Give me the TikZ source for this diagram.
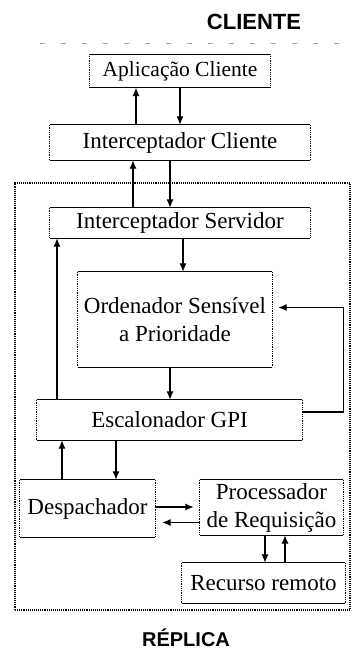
\documentclass[tikz,border=0pt]{standalone}
\usepackage{fontspec}
\setmainfont{Liberation Serif}
\newfontfamily\labelfont{Liberation Sans}
\usetikzlibrary{arrows.meta}

\begin{document}
\begin{tikzpicture}[x=1pt,y=-1pt,
  blk/.style={minimum width=#1, inner sep=0pt, align=center,
    font=\fontsize{23}{28}\selectfont},
  arr/.style={line width=1.2pt, -{Latex[length=8.5pt,width=7pt]}},
  hedge/.style={line width=1.2pt},
  vedge/.style={line width=0.8pt, densely dotted},
  title/.style={font=\labelfont\bfseries\fontsize{22}{26}\selectfont}
]
\useasboundingbox (0,0) rectangle (352,650);

% headings
\node[title] (cli) at (254,22) {CLIENTE};
\node[title, font=\labelfont\bfseries\fontsize{20}{24}\selectfont] (rep) at (186,638) {RÉPLICA};
\draw[gray!70, line width=0.6pt, dash pattern=on 5pt off 16pt] (40,43) -- (352,43);

% replica frame
\node[draw, line width=1.1pt, densely dotted, minimum width=335pt, minimum height=427pt,
      inner sep=0pt] (frame) at (182.5,396.5) {};

% blocks
\node[blk=180pt, minimum height=33pt, font=\fontsize{21.5}{26}\selectfont] (apl) at (180,71) {Aplicação Cliente};
\node[blk=260pt, minimum height=35pt] (icli) at (180,142.5) {Interceptador Cliente};
\node[blk=260pt, minimum height=30pt] (isrv) at (180,223) {Interceptador Servidor};
\node[blk=194pt, minimum height=95pt] (ord) at (175,319.5) {Ordenador Sensível\\a Prioridade};
\node[blk=265pt, minimum height=40pt] (esc) at (169.5,420) {Escalonador GPI};
\node[blk=135pt, minimum height=57pt] (desp) at (87.5,508.5) {Despachador};
\node[blk=143pt, minimum height=55pt] (proc) at (271.5,507.5) {Processador\\de Requisição};
\node[blk=163pt, minimum height=40pt] (rec) at (263.5,583) {Recurso remoto};

% block outlines: solid top and bottom, dotted sides
\foreach \n in {apl,icli,isrv,ord,esc,desp,proc,rec} {
  \draw[hedge] (\n.north west) -- (\n.north east);
  \draw[hedge] (\n.south west) -- (\n.south east);
  \draw[vedge] (\n.north west) -- (\n.south west);
  \draw[vedge] (\n.north east) -- (\n.south east);
}

% client side
\draw[arr] ([xshift=-44pt]icli.north) -- ([xshift=-44pt]apl.south);
\draw[arr] (apl.south) -- (icli.north);
\draw[arr] ([xshift=-47pt]isrv.north) -- ([xshift=-47pt]icli.south);
\draw[arr] ([xshift=-10pt]icli.south) -- ([xshift=-10pt]isrv.north);

% replica side
\draw[arr] ([xshift=3pt]isrv.south) -- ([xshift=3pt]isrv.south |- ord.north);
\draw[arr] ([xshift=-112.5pt]esc.north) -- ([xshift=-112.5pt]esc.north |- isrv.south);
\draw[arr] ([xshift=-5pt]ord.south) -- ([xshift=-5pt]ord.south |- esc.north);
\draw[arr, shorten >=6pt] ([yshift=8pt]esc.east) -- ++(41,0) |- ([yshift=12pt]ord.east);

\draw[arr] ([xshift=-25.5pt]desp.north) -- ([xshift=-25.5pt]desp.north |- esc.south);
\draw[arr] ([xshift=28.5pt]desp.north |- esc.south) -- ([xshift=28.5pt]desp.north);

\draw[arr, shorten >=6pt] ([yshift=1.5pt]desp.east) -- ([yshift=1.5pt]desp.east -| proc.west);
\draw[arr, shorten >=7pt] ([yshift=-15pt]proc.west) -- ([yshift=-15pt]proc.west -| desp.east);

\draw[arr] ([xshift=-6.5pt]proc.south) -- ([xshift=-6.5pt]proc.south |- rec.north);
\draw[arr] ([xshift=21.5pt]rec.north) -- ([xshift=21.5pt]rec.north |- proc.south);
\end{tikzpicture}
\end{document}
